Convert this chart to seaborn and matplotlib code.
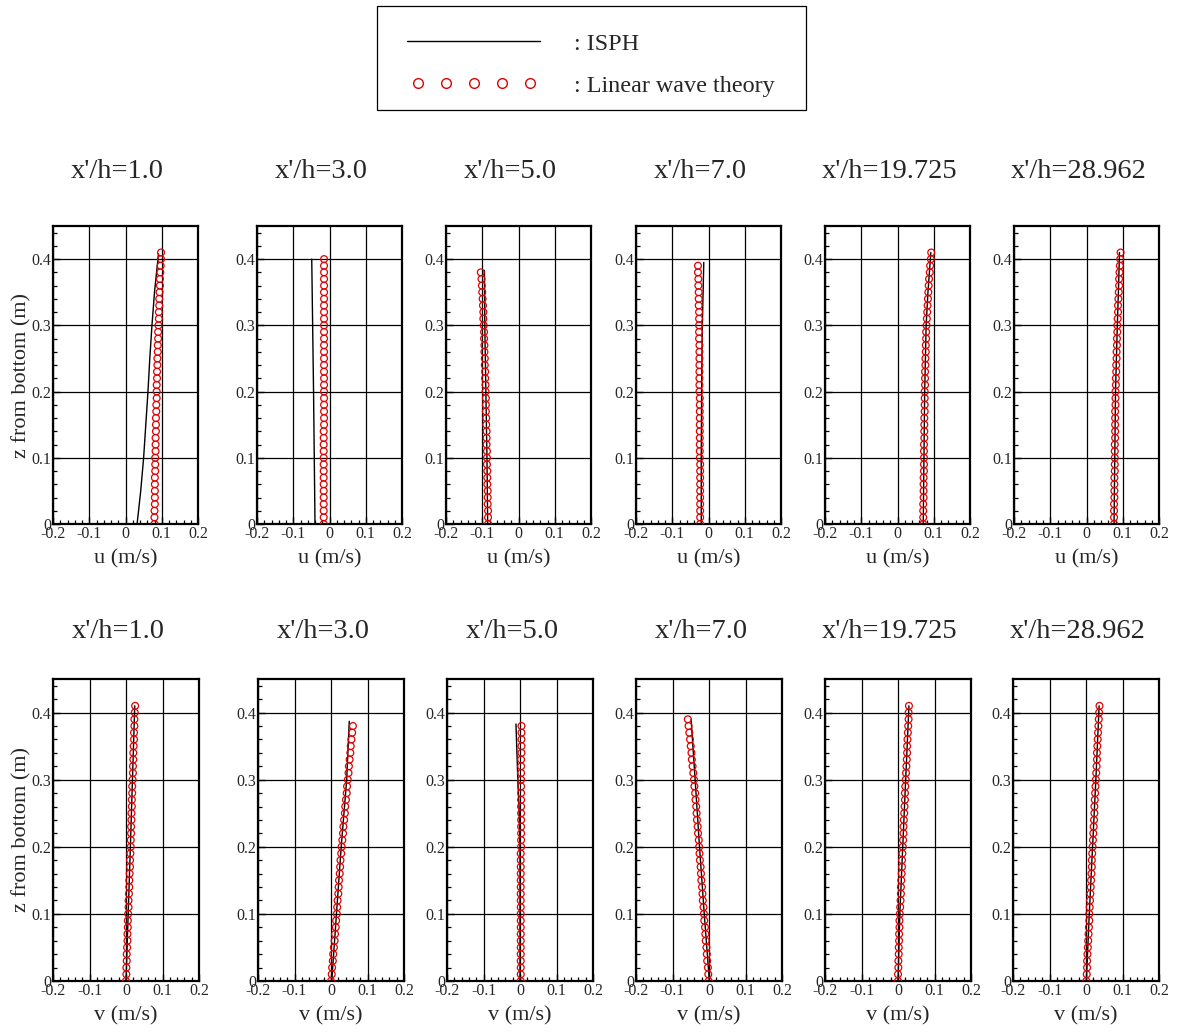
import matplotlib
matplotlib.use("Agg")
import matplotlib.pyplot as plt
from matplotlib.lines import Line2D
from matplotlib.patches import Rectangle
from matplotlib.legend_handler import HandlerLine2D
import seaborn as sns
import pandas as pd

# ---------------- data ----------------
STATIONS = ["x'/h=1.0", "x'/h=3.0", "x'/h=5.0", "x'/h=7.0", "x'/h=19.725", "x'/h=28.962"]

# vertical sampling levels of the linear-wave-theory profiles (m)
Z_LEVELS = [0.00, 0.01, 0.02, 0.03, 0.04, 0.05, 0.06, 0.07, 0.08, 0.09,
            0.10, 0.11, 0.12, 0.13, 0.14, 0.15, 0.16, 0.17, 0.18, 0.19,
            0.20, 0.21, 0.22, 0.23, 0.24, 0.25, 0.26, 0.27, 0.28, 0.29,
            0.30, 0.31, 0.32, 0.33, 0.34, 0.35, 0.36, 0.37, 0.38, 0.39,
            0.40, 0.41]

# Linear wave theory, horizontal velocity u (m/s)
U_LWT_1 = [.080, .080, .080, .081, .081, .081, .081, .081, .082, .082,
           .082, .083, .083, .083, .084, .084, .084, .085, .085, .086,
           .086, .086, .087, .087, .088, .088, .089, .089, .090, .090,
           .091, .092, .092, .093, .093, .094, .095, .095, .096, .097,
           .098, .098]
U_LWT_2 = [-.016, -.016, -.016, -.016, -.016, -.016, -.016, -.016, -.016, -.016,
           -.016, -.016, -.016, -.016, -.016, -.015, -.015, -.015, -.015, -.015,
           -.015, -.015, -.015, -.015, -.015, -.015, -.015, -.015, -.015, -.015,
           -.015, -.015, -.015, -.015, -.015, -.015, -.015, -.015, -.015, -.015,
           -.015]
U_LWT_3 = [-.084, -.084, -.084, -.085, -.085, -.085, -.086, -.086, -.086, -.087,
           -.087, -.087, -.088, -.088, -.088, -.089, -.089, -.090, -.090, -.090,
           -.091, -.091, -.092, -.092, -.093, -.093, -.094, -.094, -.095, -.095,
           -.096, -.097, -.097, -.098, -.099, -.100, -.101, -.102, -.104]
U_LWT_4 = [-.023, -.023, -.023, -.023, -.023, -.023, -.023, -.023, -.023, -.023,
           -.024, -.024, -.024, -.024, -.024, -.024, -.024, -.024, -.024, -.024,
           -.025, -.025, -.025, -.025, -.025, -.025, -.025, -.025, -.026, -.026,
           -.026, -.026, -.026, -.027, -.027, -.027, -.028, -.028, -.029, -.029]
U_LWT_5 = [.071, .071, .071, .071, .072, .072, .072, .072, .073, .073,
           .073, .073, .073, .074, .074, .074, .074, .075, .075, .075,
           .075, .076, .076, .076, .077, .077, .078, .078, .079, .079,
           .080, .081, .082, .083, .084, .085, .086, .087, .089, .090,
           .092, .093]
U_LWT_6 = [.076, .076, .076, .076, .077, .077, .077, .077, .078, .078,
           .078, .078, .078, .079, .079, .079, .079, .079, .080, .080,
           .080, .081, .081, .082, .082, .083, .083, .084, .084, .085,
           .085, .086, .087, .087, .088, .089, .090, .090, .091, .092,
           .093, .094]

# Linear wave theory, transverse velocity v (m/s)
V_LWT_1 = [.000, .001, .001, .002, .002, .003, .004, .004, .005, .005,
           .006, .007, .007, .008, .009, .009, .010, .011, .011, .012,
           .013, .013, .014, .014, .015, .015, .016, .016, .017, .017,
           .018, .019, .019, .020, .020, .021, .022, .022, .023, .023,
           .024, .025]
V_LWT_2 = [.000, .002, .003, .005, .006, .008, .010, .011, .013, .014,
           .016, .017, .018, .020, .021, .022, .024, .025, .026, .028,
           .029, .031, .033, .034, .036, .038, .039, .041, .043, .044,
           .046, .048, .049, .051, .053, .054, .056, .058, .060]
V_LWT_3 = [.002, .002, .002, .002, .002, .002, .002, .002, .002, .002,
           .002, .002, .002, .002, .002, .002, .002, .002, .002, .002,
           .003, .003, .003, .003, .003, .003, .003, .003, .003, .003,
           .003, .003, .003, .003, .004, .004, .004, .004, .004]
V_LWT_4 = [-.001, -.002, -.003, -.005, -.006, -.007, -.009, -.010, -.011, -.013,
           -.014, -.015, -.017, -.018, -.019, -.021, -.022, -.023, -.025, -.026,
           -.027, -.028, -.030, -.031, -.033, -.034, -.035, -.037, -.038, -.040,
           -.041, -.043, -.045, -.047, -.048, -.050, -.052, -.054, -.056, -.058]
V_LWT_5 = [.000, .000, .001, .001, .002, .002, .003, .003, .004, .004,
           .005, .006, .007, .008, .008, .009, .010, .011, .011, .012,
           .013, .014, .015, .015, .016, .017, .018, .019, .019, .020,
           .021, .022, .023, .024, .025, .025, .026, .027, .028, .029,
           .029, .030]
V_LWT_6 = [.001, .002, .003, .003, .004, .005, .006, .007, .008, .009,
           .009, .010, .011, .012, .013, .014, .015, .016, .016, .017,
           .018, .019, .020, .021, .022, .023, .023, .024, .025, .026,
           .027, .028, .029, .030, .030, .031, .032, .033, .034, .035,
           .036, .037]

# ISPH profiles: z (m) and velocity (m/s)
U_ISPH_Z_1 = [0.00, 0.05, 0.10, 0.15, 0.20, 0.25, 0.30, 0.35, 0.408]
U_ISPH_1 = [0.032, 0.042, 0.050, 0.056, 0.062, 0.067, 0.073, 0.080, 0.091]
U_ISPH_Z_2 = [0.00, 0.20, 0.40]
U_ISPH_2 = [-0.040, -0.044, -0.049]
U_ISPH_Z_3 = [0.00, 0.10, 0.20, 0.30, 0.383]
U_ISPH_3 = [-0.085, -0.087, -0.090, -0.093, -0.094]
U_ISPH_Z_4 = [0.00, 0.10, 0.20, 0.30, 0.395]
U_ISPH_4 = [-0.020, -0.020, -0.019, -0.017, -0.013]
U_ISPH_Z_5 = [0.00, 0.10, 0.20, 0.30, 0.35, 0.41]
U_ISPH_5 = [0.071, 0.073, 0.075, 0.079, 0.084, 0.092]
U_ISPH_Z_6 = [0.00, 0.10, 0.20, 0.30, 0.35, 0.41]
U_ISPH_6 = [0.076, 0.078, 0.080, 0.085, 0.088, 0.091]

V_ISPH_Z_1 = [0.00, 0.20, 0.41]
V_ISPH_1 = [0.000, 0.012, 0.024]
V_ISPH_Z_2 = [0.00, 0.10, 0.20, 0.30, 0.387]
V_ISPH_2 = [0.002, 0.015, 0.028, 0.043, 0.050]
V_ISPH_Z_3 = [0.00, 0.10, 0.20, 0.25, 0.30, 0.383]
V_ISPH_3 = [0.000, 0.000, 0.000, -0.002, -0.006, -0.011]
V_ISPH_Z_4 = [0.00, 0.10, 0.20, 0.30, 0.39]
V_ISPH_4 = [0.001, -0.013, -0.026, -0.038, -0.049]
V_ISPH_Z_5 = [0.00, 0.10, 0.20, 0.30, 0.41]
V_ISPH_5 = [0.000, 0.005, 0.013, 0.021, 0.030]
V_ISPH_Z_6 = [0.00, 0.10, 0.20, 0.30, 0.41]
V_ISPH_6 = [0.001, 0.009, 0.018, 0.027, 0.036]

X_TICKS = [-0.2, -0.1, 0.0, 0.1, 0.2]
X_TICK_LABELS = ["-0.2", "-0.1", "0", "0.1", "0.2"]
Y_TICKS = [0.0, 0.1, 0.2, 0.3, 0.4]
Y_TICK_LABELS = ["0", "0.1", "0.2", "0.3", "0.4"]

U_LWT = [U_LWT_1, U_LWT_2, U_LWT_3, U_LWT_4, U_LWT_5, U_LWT_6]
V_LWT = [V_LWT_1, V_LWT_2, V_LWT_3, V_LWT_4, V_LWT_5, V_LWT_6]
U_ISPH = [(U_ISPH_Z_1, U_ISPH_1), (U_ISPH_Z_2, U_ISPH_2), (U_ISPH_Z_3, U_ISPH_3),
          (U_ISPH_Z_4, U_ISPH_4), (U_ISPH_Z_5, U_ISPH_5), (U_ISPH_Z_6, U_ISPH_6)]
V_ISPH = [(V_ISPH_Z_1, V_ISPH_1), (V_ISPH_Z_2, V_ISPH_2), (V_ISPH_Z_3, V_ISPH_3),
          (V_ISPH_Z_4, V_ISPH_4), (V_ISPH_Z_5, V_ISPH_5), (V_ISPH_Z_6, V_ISPH_6)]

# ---------------- style ----------------
sns.set_style("white")
plt.rcParams["font.family"] = ["Liberation Serif", "DejaVu Serif"]
plt.rcParams["axes.unicode_minus"] = False

W, H = 1177, 1032
fig = plt.figure(figsize=(W / 100, H / 100), dpi=100)

ROWS = [
    dict(lefts=[53, 257, 446, 636, 825, 1014], width=145, top=226, bottom=524,
         lwt=U_LWT, isph=U_ISPH, xlabel="u (m/s)", title_dy=55),
    dict(lefts=[53, 258, 447, 636, 825, 1013], width=146, top=679, bottom=981,
         lwt=V_LWT, isph=V_ISPH, xlabel="v (m/s)", title_dy=48),
]

for row in ROWS:
    h_px = row["bottom"] - row["top"]
    for i, left in enumerate(row["lefts"]):
        ax = fig.add_axes([left / W, 1 - row["bottom"] / H, row["width"] / W, h_px / H])
        ax.set_axisbelow(True)

        zi, xi = row["isph"][i]
        sns.lineplot(x=xi, y=zi, ax=ax, color="black", linewidth=1.0,
                     sort=False, estimator=None, zorder=3)
        vals = row["lwt"][i]
        df = pd.DataFrame({"vel": vals, "z": Z_LEVELS[:len(vals)]})
        sns.scatterplot(data=df, x="vel", y="z", ax=ax, marker="o", s=24,
                        facecolors="none", edgecolors="#e00000", linewidth=0.9,
                        zorder=4)

        ax.set_xlim(-0.2, 0.2)
        ax.set_ylim(0, 0.45)
        ax.set_xticks(X_TICKS)
        ax.set_xticklabels(X_TICK_LABELS)
        ax.set_yticks(Y_TICKS)
        ax.set_yticklabels(Y_TICK_LABELS)
        ax.set_xticks([-0.2 + 0.02 * k for k in range(21)], minor=True)
        ax.set_yticks([0.02 * k for k in range(23)], minor=True)
        ax.tick_params(axis="both", which="major", direction="in", length=5,
                       width=1.0, color="black", labelsize=11.5, pad=1.5,
                       bottom=True, left=True, top=False, right=False)
        ax.tick_params(axis="both", which="minor", direction="in", length=3,
                       width=0.9, color="black",
                       bottom=True, left=True, top=False, right=False)
        ax.tick_params(axis="y", which="major", pad=1)
        ax.grid(True, which="major", color="black", linewidth=0.9)
        for sp in ax.spines.values():
            sp.set_color("black")
            sp.set_linewidth(1.6)

        ax.set_xlabel(row["xlabel"], fontsize=16, va="center")
        ax.xaxis.set_label_coords(0.5, -35 / h_px)
        if i == 0:
            ax.set_ylabel("z from bottom (m)", fontsize=16, va="center")
            ax.yaxis.set_label_coords(-(left - 21.5) / row["width"], 0.5)
        else:
            ax.set_ylabel("")

        ax.text(0.445, 1 + row["title_dy"] / h_px, STATIONS[i], transform=ax.transAxes,
                ha="center", va="center", fontsize=20.5)

# ---------------- legend ----------------
fs_leg = 17.4
fs_px = fs_leg * 100 / 72
h_line = Line2D([], [], color="black", linewidth=1.0)
h_mark = Line2D([], [], linestyle="none", marker="o", markerfacecolor="none",
                markeredgecolor="#e00000", markersize=7, markeredgewidth=1.0)
leg = fig.legend(handles=[h_line, h_mark], labels=[": ISPH", ": Linear wave theory"],
                 loc="upper left", bbox_to_anchor=(400 / W, 1 - 33 / H),
                 numpoints=5, handlelength=(133 + 0.6 * fs_px) / fs_px,
                 handletextpad=(34 - 0.3 * fs_px) / fs_px,
                 borderpad=0.0, labelspacing=0.82, frameon=False,
                 prop={"size": fs_leg}, borderaxespad=0,
                 handler_map={h_mark: HandlerLine2D(marker_pad=0.3 + 10.5 / fs_px)})
fig.patches.append(Rectangle((377 / W, 1 - 110 / H), (806 - 377) / W, (110 - 6) / H,
                             transform=fig.transFigure, fill=False,
                             edgecolor="black", linewidth=0.9))

fig.savefig("out.png", dpi=100)
